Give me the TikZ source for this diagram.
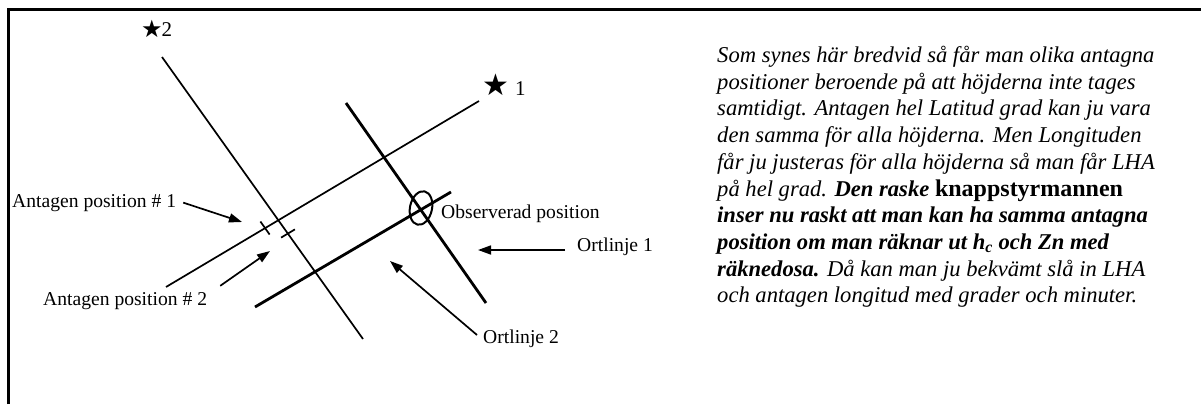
\documentclass[tikz,border=0pt]{standalone}
\usepackage{fontspec}
\setmainfont{Liberation Serif}
\newfontfamily\symfont{DejaVu Sans}
\usetikzlibrary{arrows.meta,shapes.geometric}

\begin{document}
\begin{tikzpicture}[x=1pt,y=-1pt,
  frameline/.style={line width=3pt},
  sightline/.style={line width=1.7pt},
  posline/.style={line width=2.8pt},
  tickmark/.style={line width=1.7pt},
  pointer/.style={line width=1.7pt,-{Triangle[length=13pt,width=9pt]}},
  lbl/.style={inner sep=0pt,font=\fontsize{19.6}{22}\selectfont},
  starlbl/.style={inner sep=0pt,font=\fontsize{21}{22}\selectfont},
  para/.style={inner sep=0pt,align=left,font=\fontsize{22.6}{26.7}\selectfont\itshape}]
\useasboundingbox (0,0) rectangle (1201,404);

% open frame: top and left edges
\draw[frameline] (8,404) -- (8,10) -- (1201,10);

% stars
\node[starlbl,anchor=base west] (star2) at (141,37) {\raisebox{-1pt}{\fontsize{24}{24}\symfont ★}\hspace{-1pt}2};
\node[starlbl,anchor=base west] (star1) at (482,95) {\raisebox{-1pt}{\fontsize{30}{30}\symfont ★}\hspace{6pt}1};

% end points of the lines
\coordinate (s2a) at (162,57);  \coordinate (s2b) at (363,339);
\coordinate (s1a) at (479,101); \coordinate (s1b) at (166,287);
\coordinate (o1a) at (346,103); \coordinate (o1b) at (486,303);
\coordinate (o2a) at (451,192); \coordinate (o2b) at (255,307);

% lines towards the two stars
\draw[sightline] (s2a) -- (s2b);
\draw[sightline] (s1a) -- (s1b);

% lines of position
\draw[posline] (o1a) -- (o1b);
\draw[posline] (o2a) -- (o2b);

% assumed positions
\coordinate (t1a) at (260.4,221.5); \coordinate (t1b) at (269.6,234.5);
\coordinate (t2a) at (281.1,237.6); \coordinate (t2b) at (294.9,229.4);
\draw[tickmark] (t1a) -- (t1b);
\draw[tickmark] (t2a) -- (t2b);

% observed position
\node[draw,line width=2pt,ellipse,minimum width=22pt,minimum height=34pt,inner sep=0pt,rotate=-12] (obs) at (421,208) {};

% labels
\node[lbl,anchor=base west] (ap1) at (12,207) {Antagen position \# 1};
\node[lbl,anchor=base west] (ap2) at (43,305) {Antagen position \# 2};
\node[lbl,anchor=base west] (obslbl) at (441,218) {Observerad position};
\node[lbl,anchor=base west] (ol1) at (577,251) {Ortlinje 1};
\node[lbl,anchor=base west] (ol2) at (483,343) {Ortlinje 2};

% arrow tips
\coordinate (ap1tip) at (242,222);
\coordinate (ap2tip) at (270,251);
\coordinate (ol1tip) at (478,250);
\coordinate (ol2tip) at (390,261);

\draw[pointer] ([xshift=7pt]ap1.east) -- (ap1tip);
\draw[pointer] ([shift={(13,-6)}]ap2.north east) -- (ap2tip);
\draw[pointer] ([shift={(-12,-1)}]ol1.base west) -- (ol1tip);
\draw[pointer] ([shift={(-6,-8)}]ol2.base west) -- (ol2tip);

% explanation
\node[para,anchor=north west] (txt) at (717,46) {%
Som synes här bredvid så får man olika antagna\\
positioner beroende på att höjderna inte tages\\
samtidigt. Antagen hel Latitud grad kan ju vara\\
den samma för alla höjderna. Men Longituden\\
får ju justeras för alla höjderna så man får LHA\\
på hel grad. \textbf{Den raske {\fontsize{24}{26.7}\selectfont\upshape knappstyrmannen}}\\
\textbf{inser nu raskt att man kan ha samma antagna}\\
\textbf{position om man räknar ut h\textsubscript{c} och Zn med}\\
\textbf{räknedosa.} Då kan man ju bekvämt slå in LHA\\
och antagen longitud med grader och minuter.};
\end{tikzpicture}
\end{document}
